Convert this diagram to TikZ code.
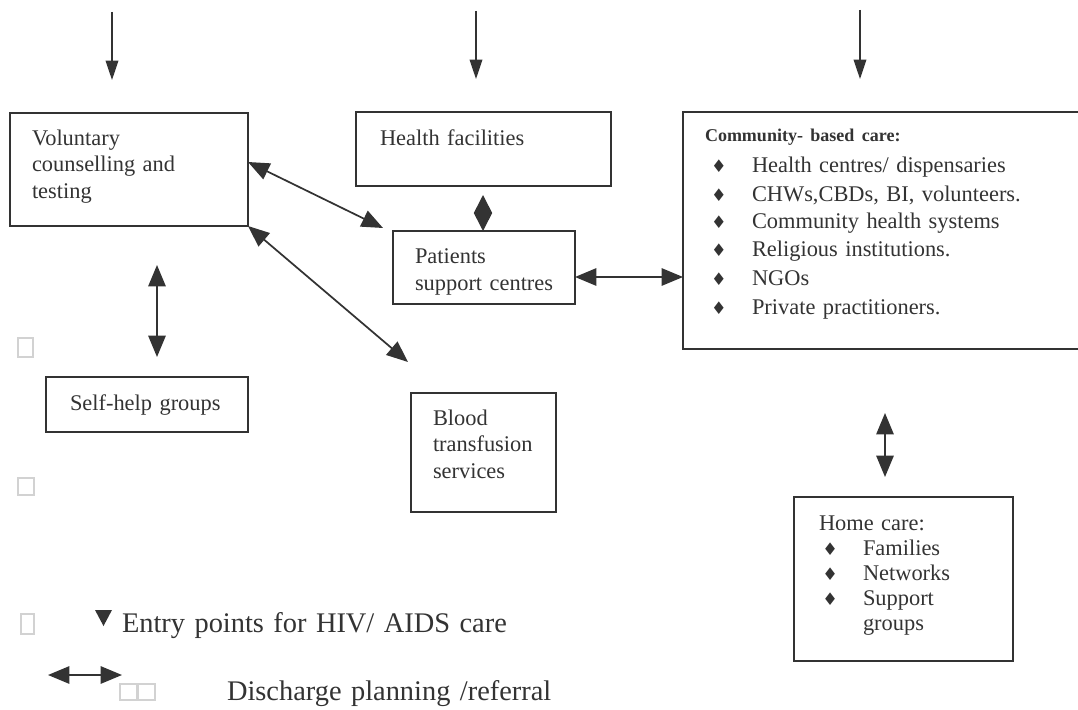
\documentclass[tikz,border=0pt]{standalone}
\usepackage{fontspec}
\setmainfont{Liberation Serif}
\newfontfamily\symf{DejaVu Sans}
\usetikzlibrary{arrows.meta,calc}
\definecolor{linec}{HTML}{333333}
\definecolor{textc}{HTML}{333333}
\definecolor{ghost}{HTML}{D2D2D2}
\newcommand\cbul{\makebox[35.25pt][l]{\hspace{4.5pt}{\symf\fontsize{13}{13}\selectfont ♦}}}
\newcommand\hbul{\makebox[33pt][l]{\hspace{2.5pt}{\symf\fontsize{13}{13}\selectfont ♦}}}
\begin{document}
\begin{tikzpicture}[x=0.75pt,y=-0.75pt,
  box/.style={draw=linec, line width=1.1pt, inner sep=0pt, outer sep=0pt, anchor=north west},
  txt/.style={inner sep=0pt, outer sep=0pt, anchor=base west, align=left, text=textc, text width=#1},
  txt/.default=200pt,
  body/.style={font=\fontsize{16.8}{19.9}\selectfont},
  entry/.style={draw=linec, line width=1pt, -{Triangle[length=14.5pt,width=9.5pt]}},
  dbl/.style={draw=linec, line width=1.3pt, {Triangle[length=16pt,width=13pt]}-{Triangle[length=16pt,width=13pt]}},
  diam/.style={draw=linec, line width=1.2pt, {Triangle[length=13.5pt,width=13.5pt]}-{Triangle[length=13.5pt,width=13.5pt]}},
  ghostbox/.style={draw=ghost, line width=0.9pt}
]
\useasboundingbox[fill=white] (0,0) rectangle (1078,710);

% boxes
\node[box, minimum width=178.5pt, minimum height=84.75pt] (vct) at (10,113) {};
\node[box, minimum width=191.25pt, minimum height=55.5pt] (hf) at (356,112) {};
\node[box, minimum width=136.5pt, minimum height=54.75pt] (psc) at (393,231) {};
\node[box, minimum width=305.25pt, minimum height=177.75pt] (cbc) at (683,112) {};
\node[box, minimum width=151.5pt, minimum height=41.25pt] (shg) at (46,377) {};
\node[box, minimum width=108.75pt, minimum height=89.25pt] (bts) at (411,393) {};
\node[box, minimum width=164.25pt, minimum height=123pt] (hc) at (794,497) {};

% texts
\node[txt=170pt, body] (vctt) at (32,145) {Voluntary\\counselling and\\testing};
\node[txt=180pt, body] (hft) at (380,145) {Health facilities};
\node[txt=130pt, font=\fontsize{16.8}{20.25}\selectfont] (psct) at (415,263) {Patients\\support centres};
\node[txt=150pt, body] (shgt) at (70,410) {Self-help groups};
\node[txt=100pt, body] (btst) at (433,425) {Blood\\transfusion\\services};
\node[txt=290pt, font=\fontsize{16.8}{21}\selectfont] (cbct) at (705,141)
  {{\bfseries\fontsize{13.5}{21}\selectfont Community- based care:}\\[3pt]
   \cbul Health centres/ dispensaries\\
   \cbul CHWs,CBDs, BI, volunteers.\\
   \cbul Community health systems\\
   \cbul Religious institutions.\\
   \cbul NGOs\\[1.5pt]
   \cbul Private practitioners.};
\node[txt=160pt, font=\fontsize{16.8}{18.75}\selectfont] (hct) at (819,530)
  {Home care:\\
   \hbul Families\\
   \hbul Networks\\
   \hbul Support\\
   \hspace*{33pt}groups};

% entry arrows
\coordinate (e1) at (112,12);
\coordinate (e2) at (476,11);
\coordinate (e3) at (860,10);
\draw[entry] (e1) -- ($(e1 |- vct.north)+(0,-33)$);
\draw[entry] (e2) -- ($(e2 |- hf.north)+(0,-33)$);
\draw[entry] (e3) -- ($(e3 |- cbc.north)+(0,-33)$);

% referral arrows
\draw[dbl] ($(vct.north east)+(0,49)$) -- ($(psc.north west)+(-10,-3)$);
\draw[dbl] (vct.south east) -- ($(bts.north west)+(-3,-31)$);
\draw[dbl] ($(vct.south west)+(147,39)$) -- ($(shg.north west)+(111,-20)$);
\draw[diam] ($(hf.south west)+(127,9)$) -- ($(psc.north west)+(90,0)$);
\coordinate (pa) at ($(psc.south east)+(0,-27)$);
\draw[dbl] (pa) -- (pa -| cbc.west);
\draw[dbl] ($(cbc.south west)+(202,64)$) -- ($(hc.north west)+(91,-20)$);

% faint placeholder squares
\draw[ghostbox] (18,338) rectangle (33,357);
\draw[ghostbox] (18,478) rectangle (34,495);
\draw[ghostbox] (21,614) rectangle (34,634);
\draw[ghostbox] (120,684) rectangle (137,700);
\draw[ghostbox] (138,684) rectangle (155,700);

% legend
\fill[linec] (95,610) -- (112,610) -- (103.5,626) -- cycle;
\node[txt=400pt, font=\fontsize{21.3}{26}\selectfont] (leg1) at (122,632) {Entry points for HIV/ AIDS care};
\coordinate (la) at (48,675);
\coordinate (lb) at (122,675);
\draw[dbl] (la) -- (lb);
\node[txt=400pt, font=\fontsize{21.3}{26}\selectfont] (leg2) at (227,700) {Discharge planning /referral};
\end{tikzpicture}
\end{document}
